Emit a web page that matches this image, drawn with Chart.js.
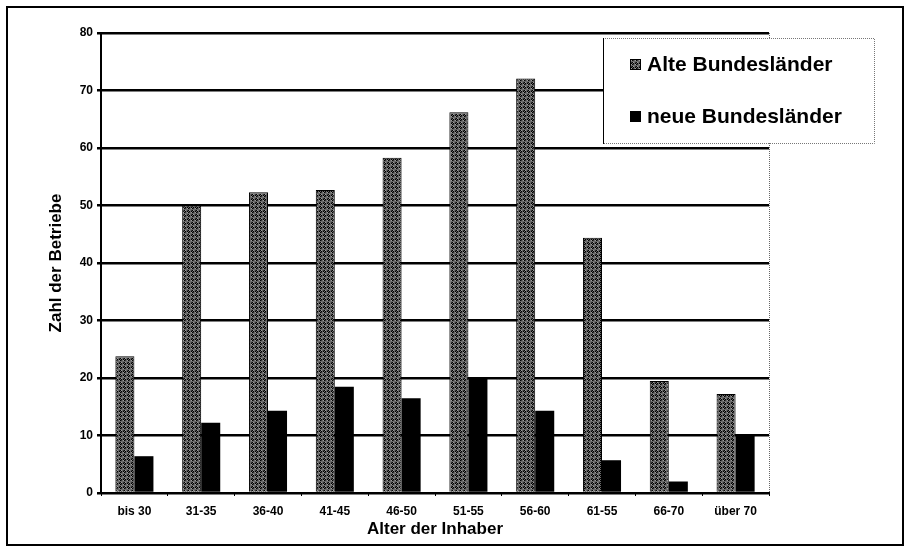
<!DOCTYPE html>
<html>
<head>
<meta charset="utf-8">
<script src="https://cdn.jsdelivr.net/npm/chart.js@4"></script>
<style>
  html, body { margin: 0; padding: 0; background: #fff; }
  #wrap { width: 909px; height: 549px; position: relative; }
</style>
</head>
<body>
<div id="wrap"><canvas id="c"></canvas></div>
<script>
const categories = ['bis 30', '31-35', '36-40', '41-45', '46-50', '51-55', '56-60', '61-55', '66-70', 'über 70'];
const alteBundeslaender = [23.8, 50.0, 52.3, 52.7, 58.3, 66.2, 72.1, 44.4, 19.5, 17.2];
const neueBundeslaender = [6.4, 12.2, 14.3, 18.5, 16.5, 20.0, 14.3, 5.7, 2.0, 10.0];
const seriesNames = ['Alte Bundesländer', 'neue Bundesländer'];
const yTicks = [0, 10, 20, 30, 40, 50, 60, 70, 80];
const xTitle = 'Alter der Inhaber';
const yTitle = 'Zahl der Betriebe';

// stippled gray fill (deterministic dither)
function makeStipple() {
  const c = document.createElement('canvas');
  c.width = 8; c.height = 8;
  const g = c.getContext('2d');
  const shades = ['#000000', '#383838', '#686868', '#9c9c9c'];
  for (let y = 0; y < 8; y++) {
    for (let x = 0; x < 8; x++) {
      const k = ((x * 5 + y * 3) ^ (x * y + y)) & 3;
      g.fillStyle = shades[k];
      g.fillRect(x, y, 1, 1);
    }
  }
  return g.createPattern(c, 'repeat');
}
const stipple = makeStipple();

const framePlugin = {
  id: 'frame',
  beforeDraw(chart) {
    const ctx = chart.ctx;
    ctx.save();
    ctx.fillStyle = '#fff';
    ctx.fillRect(0, 0, chart.width, chart.height);
    ctx.restore();
  },
  afterDraw(chart) {
    const ctx = chart.ctx;
    const a = chart.chartArea;
    ctx.save();
    // right dotted border of plot
    ctx.strokeStyle = '#666';
    ctx.lineWidth = 1;
    ctx.setLineDash([1, 1]);
    ctx.beginPath();
    ctx.moveTo(a.right + 0.5, a.top);
    ctx.lineTo(a.right + 0.5, a.bottom);
    ctx.stroke();
    ctx.setLineDash([]);
    // legend box
    const lx = a.right - 166, ly = a.top + 5, lw = 271, lh = 105;
    ctx.fillStyle = '#fff';
    ctx.fillRect(lx, ly, lw, lh);
    ctx.strokeStyle = '#777';
    ctx.setLineDash([1, 1]);
    ctx.beginPath();
    ctx.moveTo(lx, ly + 0.5); ctx.lineTo(lx + lw + 0.5, ly + 0.5);
    ctx.lineTo(lx + lw + 0.5, ly + lh + 0.5); ctx.lineTo(lx, ly + lh + 0.5);
    ctx.stroke();
    ctx.setLineDash([]);
    ctx.strokeStyle = '#000';
    ctx.beginPath();
    ctx.moveTo(lx + 0.5, ly); ctx.lineTo(lx + 0.5, ly + lh + 1);
    ctx.stroke();
    const fills = [stipple, '#000'];
    ctx.font = 'bold 21px "Liberation Sans", Arial, sans-serif';
    ctx.textBaseline = 'middle';
    ctx.textAlign = 'left';
    chart.data.datasets.forEach((ds, i) => {
      const cy = ly + 27 + i * 52;
      ctx.fillStyle = fills[i];
      ctx.fillRect(lx + 27, cy - 6, 11, 11);
      if (i === 0) { ctx.strokeStyle = '#000'; ctx.lineWidth = 1; ctx.strokeRect(lx + 27.5, cy - 5.5, 10, 10); }
      ctx.fillStyle = '#000';
      ctx.fillText(ds.label, lx + 44, cy);
    });
    // outer frame
    ctx.strokeStyle = '#000';
    ctx.lineWidth = 2;
    ctx.strokeRect(7, 7, chart.width - 13, chart.height - 11);
    ctx.restore();
  }
};

new Chart(document.getElementById('c'), {
  type: 'bar',
  data: {
    labels: categories,
    datasets: [
      { label: seriesNames[0], data: alteBundeslaender, backgroundColor: stipple, borderColor: '#000', borderWidth: 1 },
      { label: seriesNames[1], data: neueBundeslaender, backgroundColor: '#000', borderColor: '#000', borderWidth: 0 }
    ]
  },
  options: {
    responsive: true,
    maintainAspectRatio: false,
    animation: false,
    devicePixelRatio: 1,
    layout: { padding: { left: 0, right: 140, top: 33, bottom: 0 } },
    datasets: { bar: { categoryPercentage: 0.57, barPercentage: 1.0 } },
    plugins: { legend: { display: false }, tooltip: { enabled: false } },
    scales: {
      x: {
        afterFit(scale) { scale.height = 56; },
        grid: { display: true, drawOnChartArea: false, drawTicks: true, tickLength: 3, color: '#000', lineWidth: 1 },
        border: { display: true, color: '#000', width: 2 },
        ticks: { color: '#000', padding: 8, font: { family: '"Liberation Sans", Arial, sans-serif', size: 12, weight: 'bold' } },
        title: { display: true, text: xTitle, color: '#000', padding: { top: 0, bottom: 9 },
                 font: { family: '"Liberation Sans", Arial, sans-serif', size: 17, weight: 'bold' } }
      },
      y: {
        min: 0, max: 80,
        afterFit(scale) { scale.width = 101; },
        afterBuildTicks(scale) { scale.ticks = yTicks.map(v => ({ value: v })); },
        grid: { color: '#000', lineWidth: 2.5, drawTicks: true, tickLength: 4 },
        border: { display: true, color: '#000', width: 2 },
        ticks: { color: '#000', padding: 4, font: { family: '"Liberation Sans", Arial, sans-serif', size: 12, weight: 'bold' } },
        title: { display: true, text: yTitle, color: '#000', padding: { top: 46, bottom: 0 },
                 font: { family: '"Liberation Sans", Arial, sans-serif', size: 17, weight: 'bold' } }
      }
    }
  },
  plugins: [framePlugin]
});
</script>
</body>
</html>
